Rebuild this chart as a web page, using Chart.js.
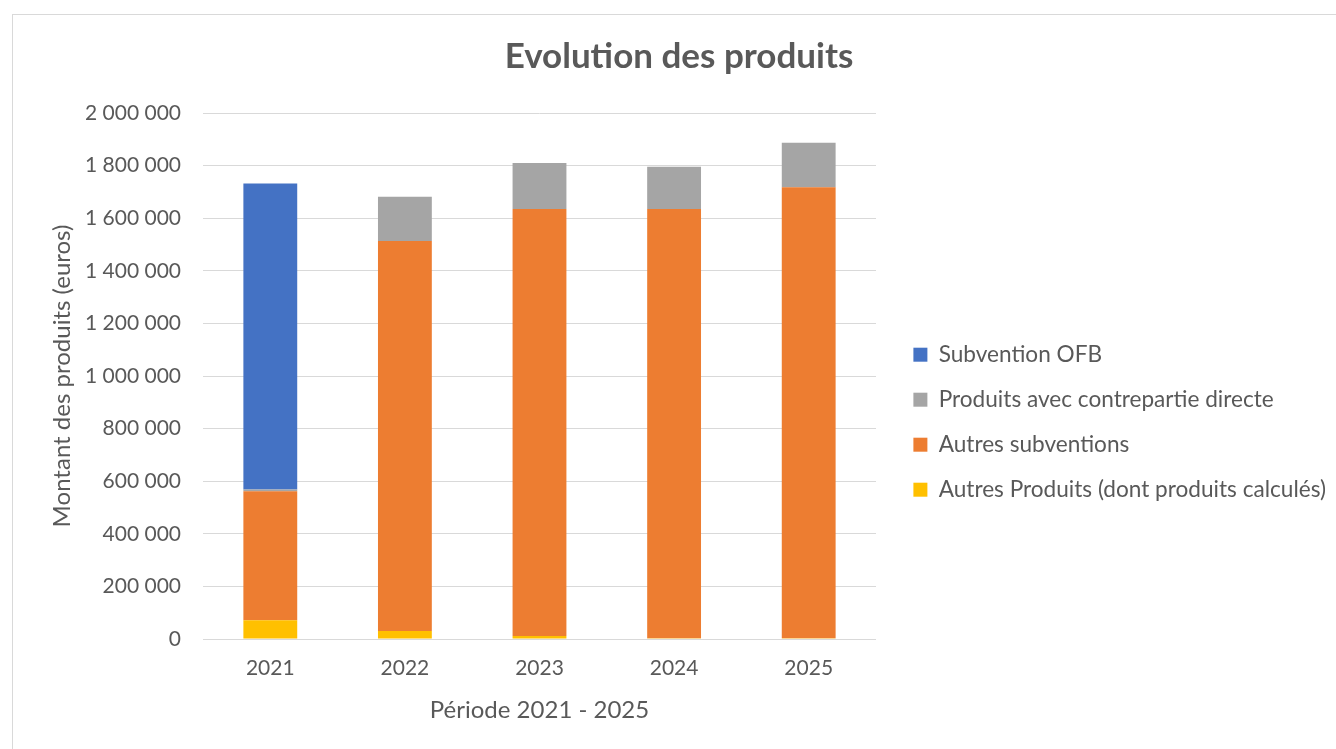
<!DOCTYPE html>
<html>
<head>
<meta charset="utf-8">
<script src="https://cdn.jsdelivr.net/npm/chart.js@4.4.1/dist/chart.umd.min.js"></script>
<style>
  html, body { margin: 0; padding: 0; background: #fff; }
  #frame { position: absolute; left: 12px; top: 14px; width: 1400px; height: 800px; border: 1px solid #d9d9d9; }
  #wrap { position: absolute; left: 0; top: 0; width: 1336px; height: 749px; }
</style>
</head>
<body>
<div id="frame"></div>
<div id="wrap"><canvas id="produitsChart" width="1336" height="749"></canvas></div>
<script>
const years = ['2021', '2022', '2023', '2024', '2025'];
const subventionOFB = [1164000, 0, 0, 0, 0];
const contrepartieDirecte = [6000, 169000, 175000, 161000, 169000];
const autresSubventions = [491000, 1483000, 1624000, 1632000, 1715000];
const autresProduits = [71000, 30000, 11000, 3000, 3000];

const textColor = '#595959';
const gridColor = '#d9d9d9';
const fontFamily = 'Lato, "Open Sans", sans-serif';

function frNumber(v) {
  return v.toString().replace(/\B(?=(\d{3})+(?!\d))/g, ' ');
}

const ctx = document.getElementById('produitsChart').getContext('2d');

// Stack from bottom to top, legend reversed like in Excel
new Chart(ctx, {
  type: 'bar',
  data: {
    labels: years,
    datasets: [
      { label: 'Autres Produits (dont produits calculés)', data: autresProduits, backgroundColor: '#FFC000' },
      { label: 'Autres subventions', data: autresSubventions, backgroundColor: '#ED7D31' },
      { label: 'Produits avec contrepartie directe', data: contrepartieDirecte, backgroundColor: '#A5A5A5' },
      { label: 'Subvention OFB', data: subventionOFB, backgroundColor: '#4472C4' }
    ]
  },
  options: {
    responsive: false,
    animation: false,
    layout: { padding: { top: 0, right: 0, bottom: 16, left: 22 } },
    datasets: {
      bar: { barPercentage: 0.4, categoryPercentage: 1, borderWidth: 0 }
    },
    scales: {
      x: {
        stacked: true,
        grid: { display: false, drawTicks: false },
        border: { display: true, color: gridColor },
        ticks: { color: textColor, font: { family: fontFamily, size: 21 }, padding: 17 },
        title: {
          display: true,
          text: 'Période 2021 - 2025',
          color: textColor,
          font: { family: fontFamily, size: 24 },
          padding: { top: 0, bottom: 8 }
        },
        afterFit(scale) { scale.height = 94; }
      },
      y: {
        stacked: true,
        min: 0,
        max: 2000000,
        grid: { color: gridColor, drawTicks: false },
        border: { display: false },
        ticks: {
          stepSize: 200000,
          color: textColor,
          font: { family: fontFamily, size: 21 },
          padding: 22,
          callback: v => frNumber(v)
        },
        title: {
          display: true,
          text: 'Montant des produits (euros)',
          color: textColor,
          font: { family: fontFamily, size: 24 },
          padding: { top: 26, bottom: 0 }
        },
        afterFit(scale) { scale.width = 181; }
      },
      gap: {
        position: 'right',
        display: true,
        grid: { display: false },
        border: { display: false },
        ticks: { display: false },
        afterFit(scale) { scale.width = 15; }
      }
    },
    plugins: {
      title: {
        display: true,
        text: 'Evolution des produits',
        color: textColor,
        font: { family: fontFamily, size: 35, weight: 'bold' },
        padding: { top: 36, bottom: 35 }
      },
      legend: {
        position: 'right',
        reverse: true,
        maxWidth: 460,
        title: { display: true, text: ' ', font: { size: 12 }, padding: { top: 0, bottom: 97 } },
        labels: {
          color: textColor,
          font: { family: fontFamily, size: 22.6 },
          boxWidth: 14,
          boxHeight: 14,
          padding: 22.4
        }
      },
      tooltip: {
        callbacks: {
          label: c => `${c.dataset.label}: ${frNumber(c.parsed.y)}`
        }
      }
    }
  }
});
</script>
</body>
</html>
